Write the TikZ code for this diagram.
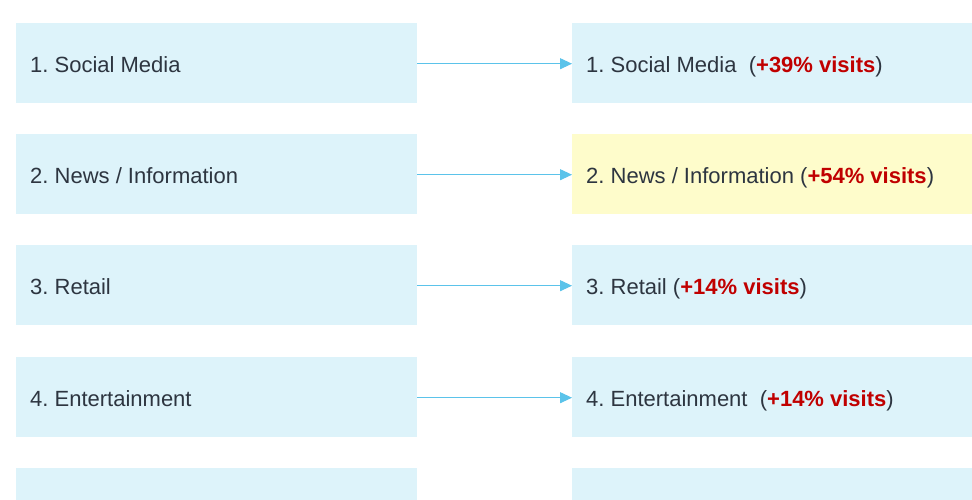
\documentclass[tikz,border=0pt]{standalone}
\usepackage{fontspec}
\setmainfont{Liberation Sans}
\usetikzlibrary{arrows.meta}
\definecolor{boxblue}{HTML}{DDF3FA}
\definecolor{boxyellow}{HTML}{FEFCCB}
\definecolor{txt}{HTML}{2D3540}
\definecolor{redtxt}{HTML}{C00000}
\definecolor{arrowc}{HTML}{5BC3EA}
\tikzset{
  cell/.style={fill=boxblue, draw=none, minimum width=401pt, minimum height=80pt, inner sep=0pt, anchor=north west},
  hcell/.style={cell, fill=boxyellow},
  lbl/.style={anchor=base west, inner sep=0pt, text=txt, font=\fontsize{22pt}{26pt}\selectfont\frenchspacing},
  conn/.style={draw=arrowc, line width=1.1pt, -{Triangle[length=12pt,width=11pt]}},
}
\newcommand{\gain}[1]{(\textcolor{redtxt}{\textbf{#1}})}
\begin{document}
\begin{tikzpicture}[x=1pt,y=-1pt]
\useasboundingbox (0,0) rectangle (972,500);
\fill[white] (0,0) rectangle (972,500);
% left column
\node[cell] (l1) at (16,23) {};
\node[cell] (l2) at (16,134) {};
\node[cell] (l3) at (16,245) {};
\node[cell] (l4) at (16,357) {};
\node[cell] (l5) at (16,468) {};
% right column
\node[cell] (r1) at (572,23) {};
\node[hcell] (r2) at (572,134) {};
\node[cell] (r3) at (572,245) {};
\node[cell] (r4) at (572,357) {};
\node[cell] (r5) at (572,468) {};
% labels
\node[lbl] (tl1) at (30,72.5) {1. Social Media};
\node[lbl] (tl2) at (30,183.5) {2. News / Information};
\node[lbl] (tl3) at (30,294.5) {3. Retail};
\node[lbl] (tl4) at (30,406.5) {4. Entertainment};
\node[lbl] (tr1) at (586,72.5) {1. Social Media\ \ \gain{+39\% visits}};
\node[lbl] (tr2) at (586,183.5) {2. News / Information \gain{+54\% visits}};
\node[lbl] (tr3) at (586,294.5) {3. Retail \gain{+14\% visits}};
\node[lbl] (tr4) at (586,406.5) {4. Entertainment\ \ \gain{+14\% visits}};
% connectors
\foreach \i in {1,2,3,4}{
  \draw[conn] ([yshift=-0.5pt]l\i.east) -- ([yshift=-0.5pt]r\i.west);
}
\end{tikzpicture}
\end{document}
